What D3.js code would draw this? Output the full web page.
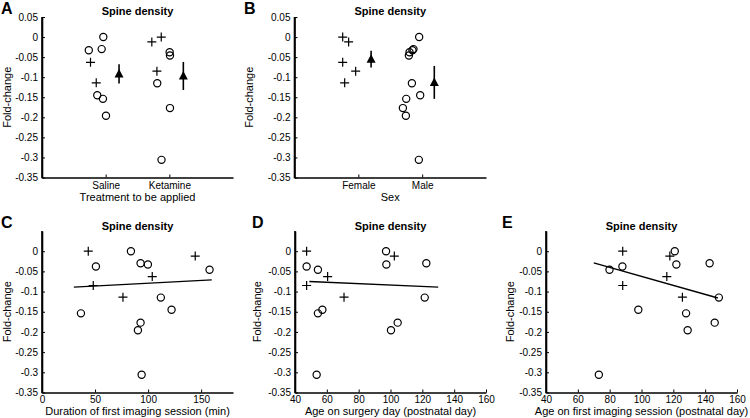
<!DOCTYPE html>
<html><head><meta charset="utf-8">
<script src="https://cdn.jsdelivr.net/npm/d3@7"></script>
<style>body{margin:0;background:#fff} svg text{font-family:"Liberation Sans",Arial,Helvetica,sans-serif;fill:#000}</style>
</head><body><svg id="c" width="750" height="418"></svg>
<script>
// ---- data (one entry per animal) ----
const foldChange  = [0, -0.012, -0.063, -0.085, -0.114, 0, -0.030, -0.033, -0.038, -0.046, -0.115, -0.145, -0.154, -0.177, -0.196, -0.306];
const sex         = ["Female","Female","Female","Female","Female","Male","Male","Male","Male","Male","Male","Male","Male","Male","Male","Male"];
const treatment   = ["Ketamine","Ketamine","Saline","Ketamine","Saline","Saline","Saline","Saline","Ketamine","Ketamine","Ketamine","Saline","Saline","Ketamine","Saline","Ketamine"];
const posTreatment= [1.873, 1.725, 0.762, 1.805, 0.852, 0.963, 0.937, 0.735, 2.005, 2.01, 1.81, 0.868, 0.957, 2.01, 1.005, 1.877];
const posSex      = [0.755, 0.848, 0.755, 0.958, 0.786, 1.953, 1.864, 1.848, 1.802, 1.792, 1.839, 1.969, 1.75, 1.698, 1.745, 1.948];
const duration    = [43.6, 144.4, 103.9, 48.3, 76.3, 83.8, 92.9, 99.8, 50.8, 157.9, 112, 122.1, 36.7, 92.9, 90.4, 93.9];
const ageSurgery  = [47.3, 102.4, 60.5, 47.3, 70.8, 97.2, 122.5, 97.4, 47.3, 54.4, 121.5, 57.2, 54.4, 104.5, 100.3, 53.6];
const ageImaging  = [88.2, 117.8, 115.9, 88.2, 125.7, 120.9, 142.8, 121.9, 88, 79.9, 148.6, 98, 128, 146, 129, 73.2];

// group summaries
const treatmentCategories = ["Saline", "Ketamine"];
const treatmentMean = [-0.092, -0.097];
const treatmentErr  = [0.024, 0.035];
const treatmentMeanPos = [1.21, 2.22];
const sexCategories = ["Female", "Male"];
const sexMean = [-0.055, -0.113];
const sexErr  = [0.021, 0.041];
const sexMeanPos = [1.2, 2.19];

// regression lines
const fitDurationX = [30, 160],  fitDurationY = [-0.089, -0.071];
const fitSurgeryX  = [49, 130],  fitSurgeryY  = [-0.075, -0.089];
const fitImagingX  = [70, 148],  fitImagingY  = [-0.029, -0.116];

// ticks
const yTicksTop = [0.05, 0, -0.05, -0.1, -0.15, -0.2, -0.25, -0.3, -0.35];
const yTicksBottom = [0, -0.05, -0.1, -0.15, -0.2, -0.25, -0.3, -0.35];
const durationTicks = [0, 50, 100, 150];
const ageTicks = [40, 60, 80, 100, 120, 140, 160];

const svg = d3.select("#c");
const fmt = d => d === 0 ? "0" : String(+d.toFixed(2));

function panel(o) {
  const g = svg.append("g");
  const x = d3.scaleLinear().domain(o.xDomain).range([o.left, o.right]);
  const y = d3.scaleLinear().domain([-0.35, 0.05]).range([o.bottom, o.top]);
  // axes
  const ya = g.append("g").attr("transform", `translate(${o.left},0)`)
    .call(d3.axisLeft(y).tickValues(o.yTicks).tickFormat(fmt).tickSizeInner(-3).tickSizeOuter(0).tickPadding(4));
  const xa = g.append("g").attr("transform", `translate(0,${o.bottom})`)
    .call(o.xAxis(x));
  [ya, xa].forEach(a => {
    a.select(".domain").attr("stroke", "#000").attr("stroke-width", 1.6);
    a.selectAll(".tick line").attr("stroke", "#000").attr("stroke-width", 1);
    a.selectAll(".tick text").attr("font-size", 10).attr("fill", "#000");
  });
  // extend axes so they meet at corner
  g.append("line").attr("x1", o.left).attr("x2", o.left).attr("y1", o.top).attr("y2", o.bottom + 0.8)
    .attr("stroke", "#000").attr("stroke-width", 1.6);
  // labels
  g.append("text").attr("x", (o.left + o.right) / 2).attr("y", o.top - 2 - (o.titleOff || 0))
    .attr("text-anchor", "middle").attr("font-size", 11).attr("font-weight", "bold").text("Spine density");
  g.append("text").attr("x", o.letterX).attr("y", o.letterY).attr("font-size", 16).attr("font-weight", "bold").text(o.letter);
  g.append("text").attr("x", (o.left + o.right) / 2).attr("y", o.bottom + o.xLabelOff)
    .attr("text-anchor", "middle").attr("font-size", 11).text(o.xLabel);
  g.append("text").attr("transform", `translate(${o.yLabelX},${(o.top + o.bottom) / 2}) rotate(-90)`)
    .attr("text-anchor", "middle").attr("font-size", 11).text("Fold-change");
  // fit line
  if (o.fitX) {
    g.append("line").attr("x1", x(o.fitX[0])).attr("x2", x(o.fitX[1]))
      .attr("y1", y(o.fitY[0])).attr("y2", y(o.fitY[1]))
      .attr("stroke", "#000").attr("stroke-width", 1.4);
  }
  // points
  const pts = foldChange.map((v, i) => ({ x: o.xs[i], y: v, m: sex[i] === "Male" }));
  g.selectAll("circle.pt").data(pts.filter(p => p.m)).join("circle").attr("class", "pt")
    .attr("cx", p => x(p.x)).attr("cy", p => y(p.y)).attr("r", 3.6)
    .attr("fill", "none").attr("stroke", "#000").attr("stroke-width", 1.2);
  g.selectAll("path.plus").data(pts.filter(p => !p.m)).join("path").attr("class", "plus")
    .attr("d", p => { const cx = x(p.x), cy = y(p.y), s = 4.5; return `M${cx - s},${cy}H${cx + s}M${cx},${cy - s}V${cy + s}`; })
    .attr("stroke", "#000").attr("stroke-width", 1.2);
  // means
  if (o.meanPos) {
    o.meanPos.forEach((mp, k) => {
      g.append("line").attr("x1", x(mp)).attr("x2", x(mp))
        .attr("y1", y(o.mean[k] + o.err[k])).attr("y2", y(o.mean[k] - o.err[k]))
        .attr("stroke", "#000").attr("stroke-width", 1.6);
      const cx = x(mp), cy = y(o.mean[k]);
      g.append("path").attr("d", `M${cx},${cy - 5}L${cx + 4.5},${cy + 3.5}L${cx - 4.5},${cy + 3.5}Z`).attr("fill", "#000");
    });
  }
}

function catAxis(cats) {
  return x => d3.axisBottom(x).tickValues([1, 2]).tickFormat((d, i) => cats[i]).tickSizeInner(-3).tickSizeOuter(0).tickPadding(4);
}
function numAxis(ticks) {
  return x => d3.axisBottom(x).tickValues(ticks).tickFormat(d3.format("d")).tickSizeInner(-3).tickSizeOuter(0).tickPadding(3);
}

const topY = { top: 17, bottom: 177.5, yTicks: yTicksTop, xLabelOff: 23 };
const botY = { top: 231, bottom: 392.5, yTicks: yTicksBottom, xLabelOff: 22 };

panel(Object.assign({ letter: "A", letterX: 1, letterY: 14, left: 42, right: 233, xDomain: [0, 3], xs: posTreatment,
  xAxis: catAxis(treatmentCategories), xLabel: "Treatment to be applied", yLabelX: 10.5,
  meanPos: treatmentMeanPos, mean: treatmentMean, err: treatmentErr }, topY));
panel(Object.assign({ letter: "B", letterX: 244, letterY: 14, left: 294.5, right: 486, xDomain: [0, 3], xs: posSex,
  xAxis: catAxis(sexCategories), xLabel: "Sex", yLabelX: 253,
  meanPos: sexMeanPos, mean: sexMean, err: sexErr }, topY));
panel(Object.assign({ letter: "C", letterX: 1, letterY: 228, left: 42, right: 233, xDomain: [0, 180], xs: duration,
  xAxis: numAxis(durationTicks), xLabel: "Duration of first imaging session (min)", yLabelX: 10.5,
  fitX: fitDurationX, fitY: fitDurationY, titleOff: -1 }, botY));
panel(Object.assign({ letter: "D", letterX: 252, letterY: 228, left: 295, right: 486, xDomain: [40, 160], xs: ageSurgery,
  xAxis: numAxis(ageTicks), xLabel: "Age on surgery day (postnatal day)", yLabelX: 261,
  fitX: fitSurgeryX, fitY: fitSurgeryY, titleOff: -1 }, botY));
panel(Object.assign({ letter: "E", letterX: 502, letterY: 228, left: 546, right: 737, xDomain: [40, 160], xs: ageImaging,
  xAxis: numAxis(ageTicks), xLabel: "Age on first imaging session (postnatal day)", yLabelX: 514,
  fitX: fitImagingX, fitY: fitImagingY, titleOff: -1 }, botY));
</script></body></html>
